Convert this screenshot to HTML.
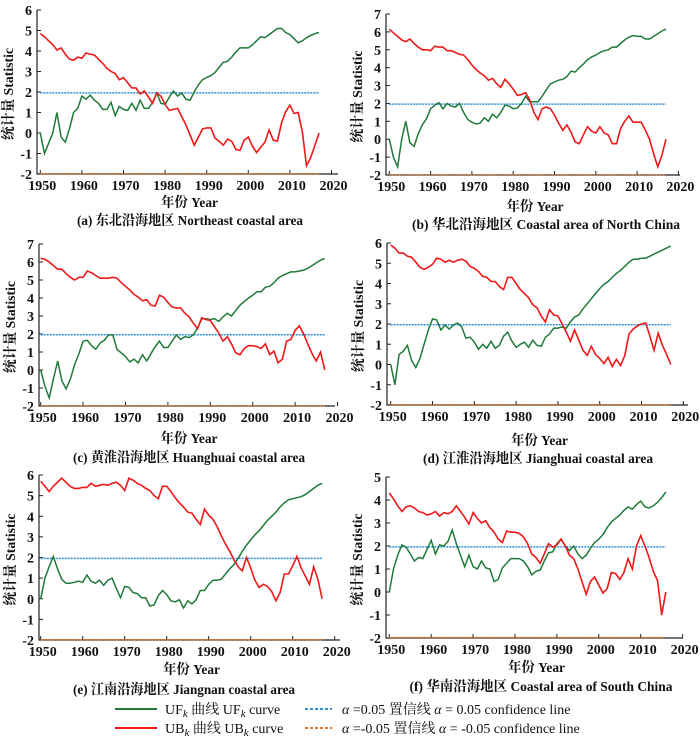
<!DOCTYPE html>
<html><head><meta charset="utf-8"><style>
body{margin:0;background:#fff}
svg{display:block}
text{font-family:"Liberation Serif","Noto Serif CJK SC",serif;fill:#111}
</style></head><body>
<svg id="chart" width="700" height="746" viewBox="0 0 700 746" xmlns="http://www.w3.org/2000/svg"></svg>
<script>
const years = [1950,1951,1952,1953,1954,1955,1956,1957,1958,1959,1960,1961,1962,1963,1964,1965,1966,1967,1968,1969,1970,1971,1972,1973,1974,1975,1976,1977,1978,1979,1980,1981,1982,1983,1984,1985,1986,1987,1988,1989,1990,1991,1992,1993,1994,1995,1996,1997,1998,1999,2000,2001,2002,2003,2004,2005,2006,2007,2008,2009,2010,2011,2012,2013,2014,2015,2016,2017];
const xTicks = [1950,1960,1970,1980,1990,2000,2010,2020];
const confUpper = 1.96;
const confLower = -1.96;

const aUF = [0,-1,-0.5,0,1.0,-0.2,-0.45,0.2,1.0,1.2, 1.8,1.65,1.85,1.6,1.45,1.15,1.15,1.5,0.85,1.3, 1.15,1.1,1.45,1.1,1.6,1.2,1.2,1.5,1.95,1.45, 1.4,1.75,2.05,1.8,1.95,1.65,1.6,2.0,2.35,2.6, 2.7,2.8,2.95,3.2,3.45,3.5,3.7,3.95,4.15,4.15, 4.15,4.3,4.5,4.7,4.65,4.8,4.95,5.1,5.1,4.9, 4.8,4.6,4.4,4.5,4.65,4.75,4.85,4.9];
const aUB = [4.85,4.7,4.5,4.3,4.05,4.15,3.85,3.6,3.55,3.7, 3.65,3.9,3.85,3.8,3.6,3.4,3.15,3.0,2.9,2.6, 2.7,2.45,2.2,2.2,1.9,2.05,1.75,1.45,1.95,1.8, 1.4,1.1,1.15,1.2,0.8,0.4,-0.1,-0.6,-0.2,0.2, 0.25,0.25,-0.25,-0.4,-0.6,-0.3,-0.4,-0.8,-0.85,-0.35, -0.2,-0.65,-0.95,-0.7,-0.45,0.15,-0.35,-0.4,0.5,1.05, 1.35,0.95,1.0,0.05,-1.6,-1.2,-0.6,0.0];

const bUF = [0,-1.0,-1.55,0,1.0,-0.2,-0.4,0.3,0.8,1.15, 1.7,1.9,2.05,1.7,2.0,1.85,1.8,2.0,1.5,1.1, 0.95,0.85,0.9,1.2,1.0,1.4,1.2,1.5,1.9,1.85, 1.7,1.75,2.0,2.4,2.1,2.1,2.1,2.4,2.75,3.1, 3.2,3.3,3.35,3.5,3.8,3.75,4.0,4.2,4.45,4.6, 4.7,4.85,4.95,5.0,5.15,5.15,5.35,5.55,5.7,5.8, 5.75,5.75,5.6,5.6,5.75,5.9,6.05,6.15];
const bUB = [6.15,5.95,5.75,5.55,5.45,5.6,5.35,5.15,5.0,5.0, 4.95,5.2,5.15,5.15,4.95,4.95,4.85,4.75,4.7,4.45, 4.15,3.9,3.7,3.55,3.3,3.4,3.1,2.9,3.35,3.1, 2.8,2.45,2.5,2.6,2.2,1.5,1.1,1.7,1.8,1.7, 1.35,0.9,0.5,0.8,0.4,-0.15,-0.25,0.25,0.7,0.45, 0.35,0.7,0.35,0.25,-0.25,-0.25,0.6,1.0,1.3,0.95, 0.95,0.95,0.5,0.0,-0.8,-1.55,-0.9,0.0];

const cUF = [0,-0.9,-1.55,-0.5,0.5,-0.6,-1.05,-0.5,0.3,0.9, 1.6,1.65,1.35,1.15,1.5,1.65,1.95,1.95,1.15,0.95, 0.75,0.45,0.6,0.4,0.85,0.5,0.9,1.3,1.6,1.25, 1.25,1.6,1.95,1.7,1.85,1.8,1.95,2.35,2.85,2.85, 2.8,2.85,2.7,2.95,3.15,3.0,3.3,3.6,3.8,4.0, 4.15,4.35,4.35,4.6,4.65,4.85,5.1,5.25,5.35,5.45, 5.45,5.5,5.55,5.65,5.8,5.95,6.1,6.2];
const cUB = [6.2,6.15,6.0,5.8,5.6,5.6,5.35,5.15,5.0,5.15, 5.15,5.5,5.4,5.25,5.1,5.1,5.1,5.15,5.1,4.85, 4.65,4.45,4.2,4.05,3.85,3.9,3.6,3.55,4.15,4.05, 3.75,3.5,3.45,3.45,3.15,2.95,2.6,2.3,2.9,2.8, 2.75,2.4,2.05,1.6,1.85,1.45,0.95,0.85,1.2,1.35, 1.35,1.3,1.2,1.45,0.85,1.05,0.4,0.6,1.6,1.7, 2.2,2.45,2.0,1.45,0.9,0.5,1.0,0.0];

const dUF = [0,-1.0,0.5,0.65,0.95,0.2,-0.15,0.3,1.0,1.7, 2.25,2.2,1.7,1.95,1.75,1.95,2.05,1.85,1.3,1.35, 1.1,0.75,1.0,0.8,1.15,0.8,0.95,1.4,1.6,1.15, 0.85,1.0,1.1,0.85,1.2,0.95,0.9,1.35,1.5,1.8, 1.8,1.85,1.8,2.1,2.35,2.45,2.75,3.0,3.25,3.5, 3.75,3.95,4.1,4.3,4.5,4.65,4.85,5.05,5.2,5.2, 5.25,5.25,5.35,5.45,5.55,5.65,5.75,5.85];
const dUB = [5.9,5.75,5.5,5.5,5.35,5.3,5.05,4.8,4.7,4.8, 4.95,5.25,5.2,5.05,5.15,5.05,5.15,5.2,5.1,4.85, 4.75,4.6,4.35,4.3,4.1,4.1,3.85,3.7,4.3,4.3, 4.0,3.7,3.5,3.3,2.95,2.8,2.4,2.1,2.7,2.45, 2.4,2.0,1.6,1.15,1.7,1.2,0.7,0.45,0.9,0.5, 0.3,0.05,0.35,-0.1,0.25,-0.05,0.45,1.5,1.75,1.9, 2.0,2.05,1.4,0.7,1.55,0.95,0.5,0.0];

const eUF = [0,1.0,1.55,2.05,1.45,0.95,0.75,0.75,0.8,0.85, 0.8,1.15,0.85,0.75,0.9,0.65,0.9,1.0,0.5,0.05, 0.6,0.55,0.3,0.25,0.05,0.05,-0.35,-0.3,0.15,0.4, 0.2,-0.1,-0.15,-0.05,-0.45,-0.1,-0.25,-0.05,0.4,0.4, 0.7,0.9,0.9,0.95,1.2,1.45,1.65,1.95,2.3,2.6, 2.85,3.1,3.3,3.55,3.8,4.0,4.2,4.45,4.65,4.8, 4.85,4.9,4.95,5.05,5.2,5.35,5.5,5.6];
const eUB = [5.7,5.45,5.2,5.45,5.65,5.85,5.65,5.45,5.35,5.35, 5.4,5.4,5.6,5.45,5.5,5.55,5.5,5.6,5.65,5.5, 5.25,5.85,5.75,5.6,5.5,5.35,5.25,5.0,4.85,5.45, 5.45,5.2,4.9,4.65,4.45,4.2,4.15,3.85,3.6,4.35, 4.05,3.85,3.5,3.05,2.65,2.3,1.9,1.55,1.35,2.0, 1.5,0.9,0.55,0.7,0.6,0.35,-0.1,0.3,1.2,1.2, 1.6,2.05,1.5,1.1,0.7,1.55,0.95,0.0];

const fUF = [0,1.0,1.6,2.05,1.95,1.65,1.35,1.5,1.45,1.85, 2.25,1.65,2.05,2.0,2.2,2.7,2.1,1.6,1.1,1.6, 1.1,1.0,1.35,1.05,1.0,0.45,0.55,1.05,1.25,1.45, 1.45,1.45,1.35,1.1,0.75,0.9,0.95,1.35,1.7,1.75, 2.1,2.3,2.0,1.8,2.0,1.65,1.45,1.6,1.9,2.15, 2.3,2.5,2.8,3.05,3.2,3.35,3.55,3.7,3.6,3.8, 3.95,3.7,3.65,3.75,3.9,4.1,4.35];
const fUB = [4.3,4.05,3.75,3.5,3.7,3.75,3.65,3.5,3.45,3.35, 3.4,3.5,3.3,3.45,3.4,3.5,3.75,3.5,3.25,2.95, 3.45,3.2,3.0,3.1,2.8,2.6,2.3,2.15,2.65,2.6, 2.6,2.55,2.4,2.1,1.65,1.5,1.25,1.65,2.1,1.95, 2.05,2.3,2.0,1.6,1.45,1.0,0.45,-0.1,0.45,0.65, 0.3,-0.05,0.15,0.85,0.8,0.55,0.85,1.45,1.0,2.0, 2.45,2.0,1.5,0.9,0.5,-1.0,0.0];

const panels = [
 {id:'a',uf:aUF,ub:aUB,ymin:-2,ymax:6,x0:40.3,ppy:4.16,yTop:10,yBot:174,axL:37,axR:338,xt:207,cap:225,capX:190,capW:226,cn:'(a) 东北沿海地区 ',en:'Northeast coastal area'},
 {id:'b',uf:bUF,ub:bUB,ymin:-2,ymax:7,x0:389.3,ppy:4.13,yTop:14,yBot:175,axL:386,axR:680,xt:211,cap:229,capX:546,capW:268,cn:'(b) 华北沿海地区 ',en:'Coastal area of North China'},
 {id:'c',uf:cUF,ub:cUB,ymin:-2,ymax:7,x0:40.7,ppy:4.24,yTop:244,yBot:406,axL:39,axR:335,xt:443,cap:462,capX:189,capW:232,cn:'(c) 黄淮沿海地区 ',en:'Huanghuai coastal area'},
 {id:'d',uf:dUF,ub:dUB,ymin:-2,ymax:6,x0:390.7,ppy:4.18,yTop:243,yBot:405,axL:387,axR:688,xt:445,cap:463,capX:538,capW:230,cn:'(d) 江淮沿海地区 ',en:'Jianghuai coastal area'},
 {id:'e',uf:eUF,ub:eUB,ymin:-2,ymax:6,x0:40.7,ppy:4.2,yTop:475,yBot:640,axL:39,axR:340,xt:674,cap:694,capX:184,capW:222,cn:'(e) 江南沿海地区 ',en:'Jiangnan coastal area'},
 {id:'f',uf:fUF,ub:fUB,ymin:-2,ymax:5,x0:389.3,ppy:4.19,yTop:477,yBot:638,axL:386,axR:683,xt:672,cap:691,capX:541,capW:263,cn:'(f) 华南沿海地区 ',en:'Coastal area of South China'}
];

const NS='http://www.w3.org/2000/svg';
const svg=document.getElementById('chart');
function mk(tag,attrs,parent){const e=document.createElementNS(NS,tag);for(const k in attrs)e.setAttribute(k,attrs[k]);(parent||svg).appendChild(e);return e;}

panels.forEach(p=>{
  const g=mk('g',{});
  
  
  const xs=yr=>p.x0+(yr-1950)*p.ppy;
  const ys=v=>p.yBot-(v-p.ymin)*(p.yBot-p.yTop)/(p.ymax-p.ymin);
  const ax=mk('path',{d:`M${p.axL},${p.yTop}V${p.yBot}H${p.axR}`,fill:'none',stroke:'#222','stroke-width':1.2},g);
  
  
  for(let v=p.ymin;v<=p.ymax;v++){
    const y=ys(v);
    const t=mk('line',{x1:p.axL,x2:p.axL+4,y1:y,y2:y,stroke:'#222','stroke-width':1},g);
    
    
    const l=mk('text',{x:p.axL-5,y:y+5,'text-anchor':'end','font-size':14,'font-weight':'bold'},g);
    l.textContent=v;
    
    
  }
  xTicks.forEach(yr=>{
    const x=xs(yr);
    const t=mk('line',{x1:x,x2:x,y1:p.yBot,y2:p.yBot-4,stroke:'#222','stroke-width':1},g);
    
    
    const l=mk('text',{x:x+2,y:p.yBot+16,'text-anchor':'middle','font-size':14,'font-weight':'bold'},g);
    l.textContent=yr;
    
    
  });
  const n=p.uf.length;
  const xEnd=xs(years[n-1]);
  const cu=mk('line',{x1:xs(years[0]),x2:xEnd,y1:ys(confUpper),y2:ys(confUpper),stroke:'#2e8fd8','stroke-width':1.5,'stroke-dasharray':'2,1'},g);
  
  
  const cl=mk('line',{x1:xs(years[0]),x2:xEnd,y1:ys(confLower)+0.5,y2:ys(confLower)+0.5,stroke:'#e07a30','stroke-width':1.3,'stroke-dasharray':'2,1'},g);
  
  
  const pts=arr=>arr.map((v,i)=>xs(years[i]).toFixed(1)+','+ys(v).toFixed(1)).join(' ');
  const uf=mk('polyline',{points:pts(p.uf),fill:'none',stroke:'#1f7a3a','stroke-width':1.5},g);
  
  
  const ub=mk('polyline',{points:pts(p.ub),fill:'none',stroke:'#f01818','stroke-width':1.6},g);
  
  
  const ymid=(p.yTop+p.yBot)/2+2, yx=p.axL-24;
  const yt=mk('text',{x:yx,y:ymid,'text-anchor':'middle','font-size':14,'font-weight':'bold',textLength:92,lengthAdjust:'spacingAndGlyphs',transform:`rotate(-90 ${yx} ${ymid})`},g);
  yt.textContent='统计量 Statistic';
  
  
  const xt=mk('text',{x:(p.axL+p.axR)/2+2,y:p.xt,'text-anchor':'middle','font-size':14,'font-weight':'bold',textLength:57,lengthAdjust:'spacingAndGlyphs'},g);
  xt.textContent='年份 Year';
  
  
  const cap=mk('text',{x:p.capX,y:p.cap,'text-anchor':'middle','font-size':14,'font-weight':'bold',textLength:p.capW,lengthAdjust:'spacingAndGlyphs'},g);
  cap.textContent=p.cn+p.en;
  
  
});

const lg=mk('g',{});


const items=[
 {x1:115,x2:157,y:709,c:'#1f7a3a',d:null,tx:165,w:113,html:'UF<tspan font-style="italic" font-size="11" dy="3">k</tspan><tspan dy="-3"> 曲线 UF</tspan><tspan font-style="italic" font-size="11" dy="3">k</tspan><tspan dy="-3"> curve</tspan>',nm:'legend-uf-curve'},
 {x1:115,x2:157,y:728,c:'#f01818',d:null,tx:165,w:115,html:'UB<tspan font-style="italic" font-size="11" dy="3">k</tspan><tspan dy="-3"> 曲线 UB</tspan><tspan font-style="italic" font-size="11" dy="3">k</tspan><tspan dy="-3"> curve</tspan>',nm:'legend-ub-curve'},
 {x1:305,x2:332,y:709,c:'#2e8fd8',d:'3,2',tx:342,w:236,html:'<tspan font-style="italic">α</tspan> =0.05 置信线 <tspan font-style="italic">α</tspan> = 0.05 confidence line',nm:'legend-upper-confidence'},
 {x1:305,x2:332,y:728,c:'#e07a30',d:'3,2',tx:342,w:245,html:'<tspan font-style="italic">α</tspan> =-0.05 置信线 <tspan font-style="italic">α</tspan> = -0.05 confidence line',nm:'legend-lower-confidence'}
];
items.forEach(it=>{
  const e=mk('g',{},lg);
  
  
  const a={x1:it.x1,x2:it.x2,y1:it.y,y2:it.y,stroke:it.c,'stroke-width':2};
  if(it.d)a['stroke-dasharray']=it.d;
  mk('line',a,e);
  const t=mk('text',{x:it.tx,y:it.y+5,'font-size':14},e);
  t.innerHTML=it.html;
});
</script>
</body></html>
